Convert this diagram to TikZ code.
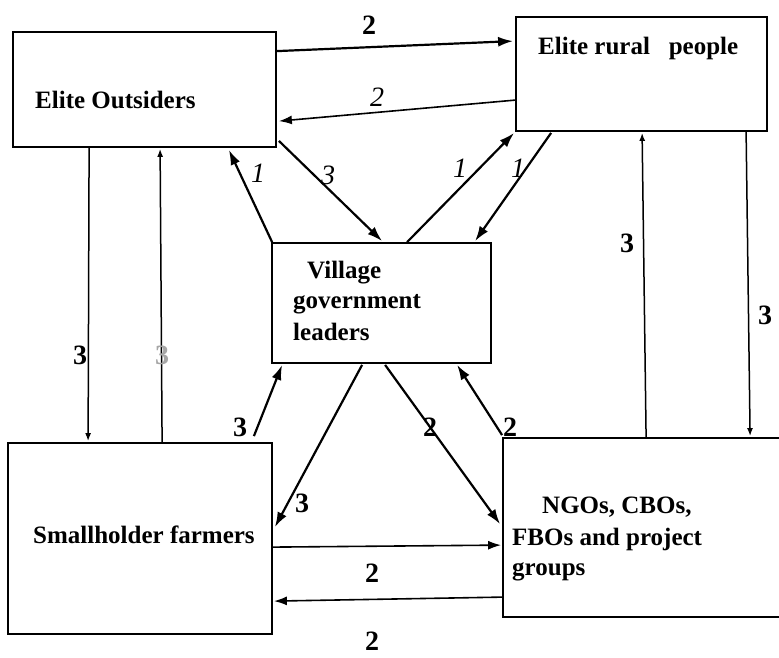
\documentclass[tikz,border=0pt]{standalone}
\usepackage{fontspec}
\setmainfont{Liberation Serif}
\usetikzlibrary{arrows.meta,calc}
\begin{document}
\begin{tikzpicture}[x=1pt,y=-1pt,
  box/.style={draw,line width=1.8pt,inner sep=0pt},
  txt/.style={anchor=base west,inner sep=0pt,font=\fontsize{25}{30}\selectfont\bfseries},
  lbl/.style={inner sep=0pt,font=\fontsize{28}{30}\selectfont\bfseries},
  ilbl/.style={inner sep=0pt,font=\fontsize{28}{30}\selectfont\itshape},
  thick arrow/.style={line width=2.2pt,-{Latex[length=15pt,width=10pt]}},
  mid arrow/.style={line width=1.6pt,-{Latex[length=13pt,width=9pt]}},
  thin arrow/.style={line width=1.5pt,-{Latex[length=8pt,width=6pt]}}]
\useasboundingbox (0,0) rectangle (779,657);
\fill[white] (0,0) rectangle (779,657);
% boxes
\node[box,minimum width=263pt,minimum height=115pt] (eo) at (144.5,89.5) {};
\node[box,minimum width=251pt,minimum height=114pt] (er) at (641.5,74) {};
\node[box,minimum width=219pt,minimum height=120pt] (vg) at (381.5,303) {};
\node[box,minimum width=264pt,minimum height=191pt] (sf) at (140,538.5) {};
\node[box,minimum width=290pt,minimum height=179pt] (ngo) at (648,527.5) {};
% texts
\node[txt] (teo) at (35,108) {Elite Outsiders};
\node[txt] (ter) at (538,54) {Elite rural\ \ \ people};
\node[txt] (tvg1) at (307,278) {Village};
\node[txt] (tvg2) at (293,308) {government};
\node[txt] (tvg3) at (293,340) {leaders};
\node[txt] (tsf) at (33,543) {Smallholder farmers};
\node[txt] (tng1) at (542,513) {NGOs, CBOs,};
\node[txt] (tng2) at (512,545) {FBOs and project};
\node[txt] (tng3) at (512,575) {groups};
% coordinates
\coordinate (sfstart) at ($(sf.north east)+(-19,-6)$);
% connectors
\draw[thick arrow] ($(eo.north east)+(0,20)$) -- ($(er.north west)+(-2,25)$);
\draw[mid arrow] ($(er.north west)+(0,84)$) -- ($(eo.north east)+(2,90)$);
\draw[thick arrow] ($(vg.north west)+(1,0)$) -- ($(eo.south east)+(-48,2)$);
\draw[thick arrow] ($(eo.south east)+(2,-7)$) -- ($(vg.north west)+(111,-1)$);
\draw[thick arrow] ($(vg.north west)+(136,0)$) -- ($(er.south west)+(-1,1)$);
\draw[thick arrow] ($(er.south west)+(36,1)$) -- ($(vg.north west)+(204,-1)$);
\draw[thin arrow] ($(eo.south west)+(77,0)$) -- ($(sf.north west)+(81,-1)$);
\draw[thin arrow] ($(sf.north west)+(155,0)$) -- ($(eo.south west)+(148,1)$);
\draw[thick arrow] (sfstart) -- ($(vg.south west)+(11,1)$);
\draw[thick arrow] ($(vg.south west)+(91,1)$) -- ($(sf.north east)+(2,85)$);
\draw[thick arrow] ($(vg.south west)+(114,1)$) -- ($(ngo.north west)+(-2,87)$);
\draw[thick arrow] ($(ngo.north west)+(0,-2)$) -- ($(vg.south west)+(186,1)$);
\draw[thin arrow] ($(ngo.north west)+(144,0)$) -- ($(er.south west)+(127,1)$);
\draw[thin arrow] ($(er.south west)+(231,0)$) -- ($(ngo.north west)+(248,-1)$);
\draw[mid arrow] ($(sf.north east)+(0,105)$) -- ($(ngo.north west)+(-1,108)$);
\draw[mid arrow] ($(ngo.north west)+(0,160)$) -- ($(sf.north east)+(1,159)$);
% labels
\node[lbl] (l1) at (369,25) {2};
\node[ilbl] (l2) at (377,97) {2};
\node[ilbl] (l3) at (258,173) {1};
\node[ilbl] (l4) at (328,175) {3};
\node[ilbl] (l5) at (460,168) {1};
\node[ilbl] (l6) at (518,168) {1};
\node[lbl] (l7) at (80,355) {3};
\node[lbl,text=black!35] (l8) at (162,355) {3};
\node[lbl] (l9) at (240,427) {3};
\node[lbl] (l10) at (302,503) {3};
\node[lbl] (l11) at (430,427) {2};
\node[lbl] (l12) at (510,427) {2};
\node[lbl] (l13) at (627,243) {3};
\node[lbl] (l14) at (765,315) {3};
\node[lbl] (l15) at (372,573) {2};
\node[lbl] (l16) at (372,641) {2};
\end{tikzpicture}
\end{document}
